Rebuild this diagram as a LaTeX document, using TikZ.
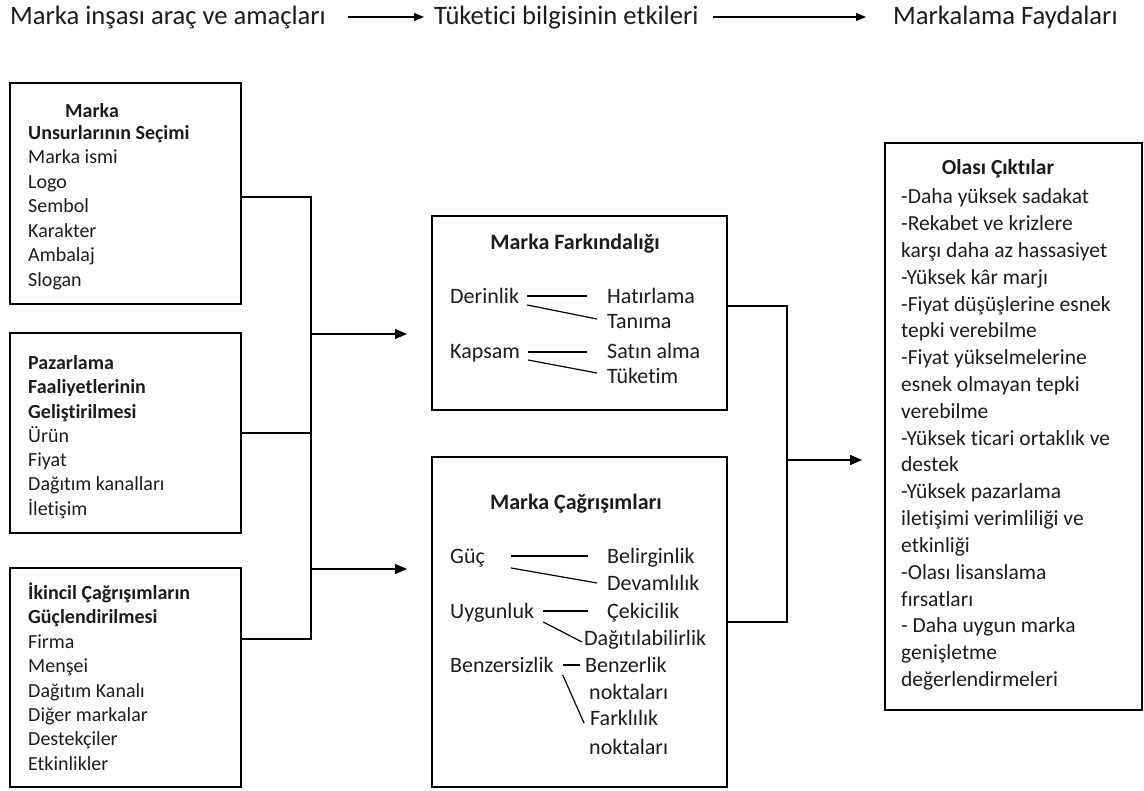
\documentclass[tikz,border=0pt]{standalone}
\usepackage{fontspec}
\setmainfont{Carlito}[Ligatures={NoCommon}]
\usetikzlibrary{arrows.meta,calc}

\definecolor{ink}{RGB}{28,28,28}

\begin{document}
\begin{tikzpicture}[x=1pt,y=-1pt,
  box/.style={draw, line width=2.8pt, anchor=north west, inner sep=0pt, outer sep=0pt},
  conn/.style={line width=1.3pt},
  arr/.style={conn, -{Triangle[length=12pt,width=10pt]}},
  harr/.style={line width=1.3pt, -{Triangle[length=10pt,width=8pt]}},
  link/.style={line width=1.2pt},
  lt/.style={anchor=base west, inner sep=0pt, text=ink, font=\fontsize{20}{24}\selectfont},
  ltb/.style={lt, font=\fontsize{20}{24}\selectfont\bfseries},
  mt/.style={anchor=base west, inner sep=0pt, text=ink, font=\fontsize{22}{26}\selectfont},
  mtb/.style={anchor=base, inner sep=0pt, text=ink, font=\fontsize{22}{26}\selectfont\bfseries},
  rt/.style={anchor=base west, inner sep=0pt, text=ink, font=\fontsize{21.5}{26}\selectfont},
  rtb/.style={anchor=base, inner sep=0pt, text=ink, font=\fontsize{21.5}{26}\selectfont\bfseries},
  hd/.style={anchor=base west, inner sep=0pt, text=ink, font=\fontsize{26.6}{30}\selectfont},
]
\useasboundingbox (0,0) rectangle (1144,791);

% ---- header row ----
\node[hd] (h1) at (10,25) {Marka inşası araç ve amaçları};
\node[hd] (h2) at (434,25) {Tüketici bilgisinin etkileri};
\node[hd] (h3) at (893,25) {Markalama Faydaları};
\draw[harr] ($(h1.base east)+(22,-8)$) -- ($(h2.base west)+(-10,-8)$);
\draw[harr] ($(h2.base east)+(14,-8)$) -- ($(h3.base west)+(-27,-8)$);

% ---- left column: brand building tools ----
\node[box, minimum width=231pt, minimum height=221pt] (b1) at (10,83) {};
\node[ltb] (b1t) at (65,117.5) {Marka};
\foreach \txt [count=\i] in {{\bfseries Unsurlarının Seçimi}, Marka ismi, Logo, Sembol, Karakter, Ambalaj, Slogan}
  \node[lt] (b1l\i) at (28,{139.5+24.5*(\i-1)}) {\txt};

\node[box, minimum width=231pt, minimum height=200pt] (b2) at (10,333) {};
\foreach \txt [count=\i] in {{\bfseries Pazarlama}, {\bfseries Faaliyetlerinin}, {\bfseries Geliştirilmesi}, Ürün, Fiyat, Dağıtım kanalları, İletişim}
  \node[lt] (b2l\i) at (28,{369.5+24.3*(\i-1)}) {\txt};

\node[box, minimum width=231pt, minimum height=219pt] (b3) at (10,568) {};
\foreach \txt [count=\i] in {{\bfseries İkincil Çağrışımların}, {\bfseries Güçlendirilmesi}, Firma, Menşei, Dağıtım Kanalı, Diğer markalar, Destekçiler, Etkinlikler}
  \node[lt] (b3l\i) at (28,{599.5+24.4*(\i-1)}) {\txt};

% ---- middle column: consumer knowledge ----
\node[box, minimum width=295pt, minimum height=194pt] (aware) at (432,216) {};
\node[mtb] (awt) at (575,250) {Marka Farkındalığı};
\node[mt] (der) at (450,304) {Derinlik};
\node[mt] (hat) at (607,304) {Hatırlama};
\node[mt] (tan) at (607,329) {Tanıma};
\node[mt] (kap) at (450,359) {Kapsam};
\node[mt] (sat) at (607,359) {Satın alma};
\node[mt] (tuk) at (607,384) {Tüketim};
\draw[link] ($(der.base east)+(8,-8)$) -- ($(hat.base west)+(-20,-8)$);
\draw[link] ($(der.base east)+(8,1)$) -- ($(tan.base west)+(-10,-10)$);
\draw[link] ($(kap.base east)+(8,-7)$) -- ($(sat.base west)+(-20,-7)$);
\draw[link] ($(kap.base east)+(8,1)$) -- ($(tuk.base west)+(-10,-11)$);

\node[box, minimum width=295pt, minimum height=330pt] (assoc) at (432,457) {};
\node[mtb] (ast) at (576,510) {Marka Çağrışımları};
\node[mt] (guc) at (450,563) {Güç};
\node[mt] (bel) at (607,563) {Belirginlik};
\node[mt] (dev) at (607,590) {Devamlılık};
\node[mt] (uyg) at (450,618) {Uygunluk};
\node[mt] (cek) at (607,618) {Çekicilik};
\node[mt] (dag) at (584,645) {Dağıtılabilirlik};
\node[mt] (bzs) at (450,672) {Benzersizlik};
\node[mt] (bzl) at (585,672) {Benzerlik};
\node[mt] (nk1) at (589,699) {noktaları};
\node[mt] (frk) at (590,725) {Farklılık};
\node[mt] (nk2) at (589,754) {noktaları};
\draw[link] ($(guc.base east)+(26,-7)$) -- ($(bel.base west)+(-19,-7)$);
\draw[link] ($(guc.base east)+(26,5)$) -- ($(dev.base west)+(-10,-7)$);
\draw[link] ($(uyg.base east)+(9,-7)$) -- ($(cek.base west)+(-19,-7)$);
\draw[link] ($(uyg.base east)+(9,4)$) -- ($(dag.base west)+(-2,-3)$);
\draw[link] ($(bzs.base east)+(9,-7)$) -- ($(bzl.base west)+(-5,-7)$);
\draw[link] ($(bzs.base east)+(9,3)$) -- ($(frk.base west)+(-6,-2)$);

% ---- right column: branding benefits ----
\node[box, minimum width=257pt, minimum height=567pt] (outc) at (885,143) {};
\node[rtb] (oct) at (998,175) {Olası Çıktılar};
\foreach \txt [count=\i] in {-Daha yüksek sadakat, -Rekabet ve krizlere, karşı daha az hassasiyet, -Yüksek kâr marjı, -Fiyat düşüşlerine esnek, tepki verebilme, -Fiyat yükselmelerine, esnek olmayan tepki, verebilme, -Yüksek ticari ortaklık ve, destek, -Yüksek pazarlama, iletişimi verimliliği ve, etkinliği, -Olası lisanslama, fırsatları, - Daha uygun marka, genişletme, değerlendirmeleri}
  \node[rt] (ol\i) at (901,{204+26.8*(\i-1)}) {\txt};

% ---- connectors ----
\coordinate (jt) at (311,197);
\coordinate (jb) at (311,639);
\draw[conn] (b1.east |- jt) -- (jt) -- (jb) -- (b3.east |- jb);
\draw[conn] (b2.east) -- (b2.east -| jt);
\coordinate (a1) at (311,334);
\coordinate (a2) at (311,569);
\draw[arr] (a1) -- ($(a1 -| aware.west)+(-25,0)$);
\draw[arr] (a2) -- ($(a2 -| assoc.west)+(-25,0)$);

\coordinate (jr1) at (787,306);
\coordinate (jr2) at (787,622);
\draw[conn] (aware.east |- jr1) -- (jr1) -- (jr2) -- (assoc.east |- jr2);
\coordinate (a3) at (787,460);
\draw[arr] (a3) -- ($(a3 -| outc.west)+(-23,0)$);
\end{tikzpicture}
\end{document}
